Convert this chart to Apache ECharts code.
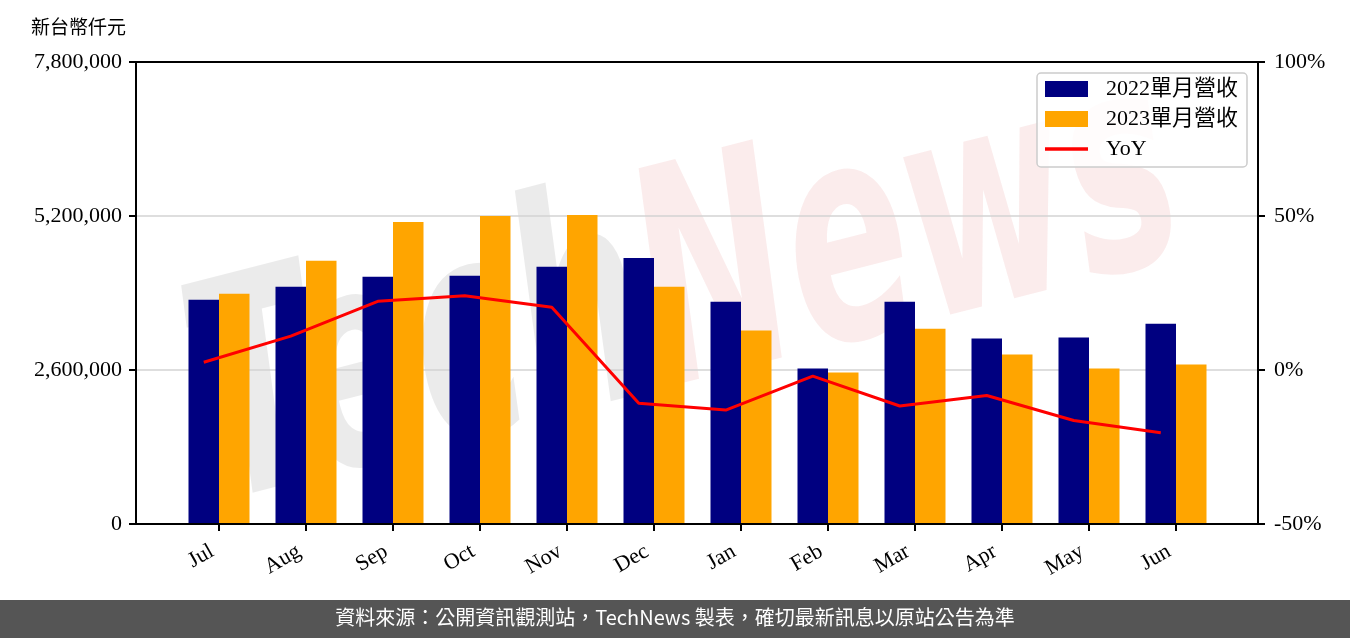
<!DOCTYPE html>
<html lang="zh-Hant-TW">
<head>
<meta charset="utf-8">
<script src="https://cdn.jsdelivr.net/npm/echarts@6/dist/echarts.min.js"></script>
<style>
html,body{margin:0;padding:0;background:#fff;}
#chart{width:1350px;height:638px;}
</style>
</head>
<body>
<div id="chart"></div>
<script>
const categories = ['Jul','Aug','Sep','Oct','Nov','Dec','Jan','Feb','Mar','Apr','May','Jun'];
const revenue2022 = [3786000, 4005000, 4173000, 4190000, 4342000, 4493000, 3753000, 2625000, 3753000, 3130000, 3147000, 3382000];
const revenue2023 = [3887000, 4443000, 5099000, 5200000, 5217000, 4005000, 3265000, 2558000, 3298000, 2861000, 2625000, 2692000];
const yoyPct = [2.5, 11.0, 22.3, 24.1, 20.4, -10.8, -13.0, -2.0, -11.7, -8.3, -16.4, -20.4];
const leftTicks = [0, 2600000, 5200000, 7800000];
const rightTicks = [-50, 0, 50, 100];
const seriesNames = ['2022單月營收', '2023單月營收', 'YoY'];
const unitLabel = '新台幣仟元';
const footerText = '資料來源：公開資訊觀測站，TechNews 製表，確切最新訊息以原站公告為準';

const serif = "'Liberation Serif', 'Noto Sans CJK TC', serif";
const chart = echarts.init(document.getElementById('chart'), null, {renderer: 'canvas'});

const gridTop = 62, gridBottom = 114;
const option = {
  animation: false,
  backgroundColor: '#ffffff',
  textStyle: {fontFamily: serif},
  grid: [
    {left: 136, right: 92, top: gridTop, bottom: gridBottom, show: true, borderColor: '#000', borderWidth: 2, backgroundColor: 'transparent', z: 3},
    {left: 175.5, right: 130.5, top: gridTop, bottom: gridBottom, show: false}
  ],
  xAxis: [
    {gridIndex: 0, type: 'value', min: 0, max: 1, show: false},
    {gridIndex: 1, type: 'category', data: categories, boundaryGap: true,
      axisLine: {show: false},
      axisTick: {show: true, alignWithLabel: true, length: 7, lineStyle: {color: '#000', width: 2}},
      axisLabel: {rotate: 30, margin: 22, padding: [0, 8, 0, 0], fontSize: 22, color: '#000', fontFamily: serif}
    },
    {gridIndex: 1, type: 'value', min: -0.5, max: 11.5, show: false}
  ],
  yAxis: [
    {gridIndex: 0, type: 'value', position: 'left', min: leftTicks[0], max: leftTicks[leftTicks.length-1], interval: leftTicks[1]-leftTicks[0],
      axisLine: {show: true, lineStyle: {color: '#000', width: 2}},
      axisTick: {show: true, length: 7, lineStyle: {color: '#000', width: 2}},
      axisLabel: {margin: 14, fontSize: 22, color: '#000', fontFamily: serif, formatter: v => v.toLocaleString('en-US')},
      splitLine: {show: true, lineStyle: {color: '#d3d3d3', width: 1.6}}
    },
    {gridIndex: 0, type: 'value', position: 'right', min: rightTicks[0], max: rightTicks[rightTicks.length-1], interval: rightTicks[1]-rightTicks[0],
      axisLine: {show: true, lineStyle: {color: '#000', width: 2}},
      axisTick: {show: true, length: 7, lineStyle: {color: '#000', width: 2}},
      axisLabel: {margin: 16, fontSize: 22, color: '#000', fontFamily: serif, formatter: '{value}%'},
      splitLine: {show: false}
    },
    {gridIndex: 1, type: 'value', min: leftTicks[0], max: leftTicks[leftTicks.length-1], show: false, splitLine: {show: false}},
    {gridIndex: 1, type: 'value', min: rightTicks[0], max: rightTicks[rightTicks.length-1], show: false, splitLine: {show: false}}
  ],
  legend: {
    orient: 'vertical', left: 1037, top: 73,
    padding: [5, 9, 7, 8],
    backgroundColor: 'rgba(255,255,255,0.85)', borderColor: '#cccccc', borderWidth: 1.5, borderRadius: 4,
    itemWidth: 43, itemHeight: 16, itemGap: 8,
    textStyle: {fontSize: 22, color: '#000', fontFamily: serif, padding: [0, 0, 0, 13]},
    data: [
      {name: seriesNames[0], icon: 'rect'},
      {name: seriesNames[1], icon: 'rect'},
      {name: seriesNames[2], icon: 'path://M0,0L43,0L43,3.5L0,3.5Z'}
    ],
    z: 10
  },
  series: [
    {name: seriesNames[0], type: 'bar', xAxisIndex: 1, yAxisIndex: 2, data: revenue2022, barWidth: 30.5, barGap: '0%', itemStyle: {color: '#000080'}, z: 2},
    {name: seriesNames[1], type: 'bar', xAxisIndex: 1, yAxisIndex: 2, data: revenue2023, barWidth: 30.5, barGap: '0%', itemStyle: {color: '#FFA500'}, z: 2},
    {name: seriesNames[2], type: 'line', xAxisIndex: 2, yAxisIndex: 3, data: yoyPct.map((v, i) => [i - 0.175, v]), symbol: 'none', lineStyle: {color: '#FF0000', width: 3}, itemStyle: {color: '#FF0000'}, z: 4}
  ],
  graphic: [
    {type: 'text', left: 31, top: 17, z: 20, style: {text: unitLabel, fontSize: 19, fontFamily: "'Noto Sans CJK TC', sans-serif", fill: '#000'}},
    {type: 'group', x: 645, y: 312, rotation: 0.25, scaleX: 0.6, z: 30, silent: true, children: [
      {type: 'text', x: 0, y: 0, style: {text: 'Tech', fontSize: 300, fontStyle: 'italic', fontWeight: 'bold', fontFamily: 'DejaVu Sans', fill: 'rgba(0,0,0,0.08)', align: 'right', verticalAlign: 'middle'}},
      {type: 'text', x: 0, y: 0, style: {text: 'News', fontSize: 300, fontStyle: 'italic', fontWeight: 'bold', fontFamily: 'DejaVu Sans', fill: 'rgba(210,30,30,0.085)', align: 'left', verticalAlign: 'middle'}}
    ]},
    {type: 'rect', left: 0, top: 600, z: 20, shape: {width: 1350, height: 38}, style: {fill: '#555555'}},
    {type: 'text', left: 'center', top: 607, z: 21, style: {text: footerText, fontSize: 20, fontFamily: "'Noto Sans CJK TC', sans-serif", fill: '#ffffff'}}
  ]
};
chart.setOption(option);
</script>
</body>
</html>
